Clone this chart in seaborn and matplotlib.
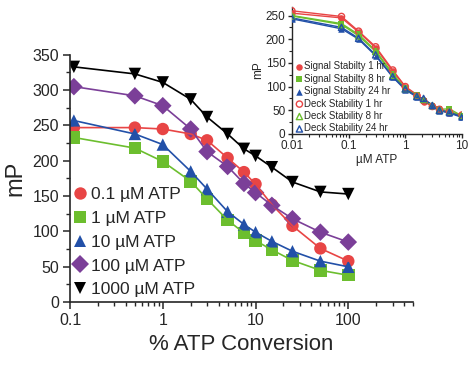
import numpy as np
import pandas as pd
import matplotlib
matplotlib.use("Agg")
import matplotlib.pyplot as plt
from matplotlib.ticker import LogLocator, MultipleLocator, NullFormatter, FixedLocator, FixedFormatter
import seaborn as sns

sns.set_style("ticks")
plt.rcParams['font.family'] = ['Liberation Sans', 'DejaVu Sans']

# main panel data
conversion = [0.11, 0.5, 1, 2, 3, 5, 7.5, 10, 15, 25, 50, 100]
atp_labels = ["0.1 µM ATP", "1 µM ATP", "10 µM ATP", "100 µM ATP", "1000 µM ATP"]
mp_01 = [247, 247, 245, 238, 229, 204, 184, 167, 138, 108, 76, 58]
mp_1 = [233, 218, 199, 171, 146, 116, 98, 87, 74, 59, 45, 38]
mp_10 = [257, 238, 223, 185, 160, 128, 110, 99, 86, 72, 58, 50]
mp_100 = [305, 292, 278, 245, 213, 192, 168, 155, 137, 118, 99, 85]
mp_1000 = [333, 323, 311, 287, 262, 238, 217, 207, 191, 170, 156, 153]

# inset data
uM_atp = [0.01, 0.075, 0.15, 0.3, 0.6, 1.0, 1.6, 2.1, 3.0, 4.0, 6.0, 10.0]
inset_labels = ["Signal Stabilty 1 hr", "Signal Stabilty 8 hr", "Signal Stabilty 24 hr",
                "Deck Stability 1 hr", "Deck Stability 8 hr", "Deck Stability 24 hr"]
sig_1 = [255, 245, 215, 182, 132, 100, 83, 68, 60, 50, 45, 37]
sig_8 = [250, 233, 210, 176, 127, 96, 82, 70, 58, 52, 53, 38]
sig_24 = [243, 222, 200, 165, 120, 93, 78, 72, 62, 49, 44, 35]
deck_1 = [260, 248, 217, 184, 135, 100, 80, 70, 58, 52, 46, 40]
deck_8 = [249, 231, 207, 174, 124, 95, 80, 73, 60, 50, 47, 39]
deck_24 = [245, 225, 202, 167, 121, 95, 79, 75, 60, 50, 46, 36]

red, green, blue, purple, black = "#E84545", "#6CBE2E", "#2250A8", "#7B3F98", "#000000"

main_df = pd.concat([
    pd.DataFrame({"x": conversion, "y": vals, "atp": lab})
    for lab, vals in zip(atp_labels, [mp_01, mp_1, mp_10, mp_100, mp_1000])
])
pal = dict(zip(atp_labels, [red, green, blue, purple, black]))
marks = dict(zip(atp_labels, ["o", "s", "^", "D", "v"]))

fig = plt.figure(figsize=(4.7, 3.68), dpi=100)
ax = fig.add_axes([0.149, 0.179, 0.73, 0.672])

sns.lineplot(data=main_df, x="x", y="y", hue="atp", palette=pal,
             linewidth=1.2, legend=False, ax=ax)
sns.scatterplot(data=main_df, x="x", y="y", hue="atp", style="atp",
                palette=pal, markers=marks, s=80, linewidth=0, ax=ax)

ax.set_xscale("log")
ax.set_xlim(0.1, 500)
ax.set_ylim(0, 350)
ax.xaxis.set_major_locator(FixedLocator([0.1, 1, 10, 100]))
ax.xaxis.set_major_formatter(FixedFormatter(["0.1", "1", "10", "100"]))
ax.xaxis.set_minor_locator(LogLocator(base=10, subs=np.arange(2, 10), numticks=20))
ax.xaxis.set_minor_formatter(NullFormatter())
ax.yaxis.set_major_locator(MultipleLocator(50))
ax.yaxis.set_minor_locator(MultipleLocator(25))
ax.tick_params(which="major", length=5, width=1.1, labelsize=11.5, pad=3)
ax.tick_params(which="minor", length=3, width=1.0)
for sp in ["left", "bottom"]:
    ax.spines[sp].set_linewidth(1.2)
sns.despine(ax=ax)
ax.set_xlabel("% ATP Conversion", fontsize=16, labelpad=4)
ax.set_ylabel("mP", fontsize=17, labelpad=4)

ax.legend(loc="lower left", bbox_to_anchor=(-0.045, -0.03), frameon=False,
          fontsize=12.5, handletextpad=-0.1, labelspacing=0.5, borderpad=0.2,
          handlelength=1.5)

# inset
ax_in = fig.add_axes([0.621, 0.636, 0.362, 0.345])
series = [
    (sig_1, red, "o", True), (sig_8, green, "s", True), (sig_24, blue, "^", True),
    (deck_1, red, "o", False), (deck_8, green, "^", False), (deck_24, blue, "^", False),
]
for vals, c, m, filled in series:
    sns.lineplot(x=uM_atp, y=vals, color=c, linewidth=1.0, legend=False, ax=ax_in)
for (vals, c, m, filled), lab in zip(series, inset_labels):
    if filled:
        sns.scatterplot(x=uM_atp, y=vals, color=c, marker=m, s=22, linewidth=0,
                        label=lab, ax=ax_in, zorder=3)
    else:
        sns.scatterplot(x=uM_atp, y=vals, color=c, facecolor="none", edgecolor=c,
                        marker=m, s=20, linewidth=1.0, label=lab, ax=ax_in, zorder=3)

ax_in.set_xscale("log")
ax_in.set_xlim(0.01, 10)
ax_in.set_ylim(0, 268)
ax_in.xaxis.set_major_locator(FixedLocator([0.01, 0.1, 1, 10]))
ax_in.xaxis.set_major_formatter(FixedFormatter(["0.01", "0.1", "1", "10"]))
ax_in.xaxis.set_minor_locator(LogLocator(base=10, subs=np.arange(2, 10), numticks=20))
ax_in.xaxis.set_minor_formatter(NullFormatter())
ax_in.yaxis.set_major_locator(MultipleLocator(50))
ax_in.yaxis.set_minor_locator(MultipleLocator(25))
ax_in.tick_params(which="major", length=3, width=1.0, labelsize=8.5, pad=1.5)
ax_in.tick_params(which="minor", length=2, width=0.8)
for sp in ["left", "bottom"]:
    ax_in.spines[sp].set_linewidth(1.0)
sns.despine(ax=ax_in)
ax_in.set_xlabel("µM ATP", fontsize=8.5, labelpad=1)
ax_in.set_ylabel("mP", fontsize=8.5, labelpad=1)
ax_in.legend(loc="lower left", bbox_to_anchor=(-0.03, -0.05), frameon=False,
             fontsize=7, handletextpad=-0.1, labelspacing=0.25, borderpad=0.2,
             handlelength=1.2)

fig.savefig("out.png", dpi=100)
